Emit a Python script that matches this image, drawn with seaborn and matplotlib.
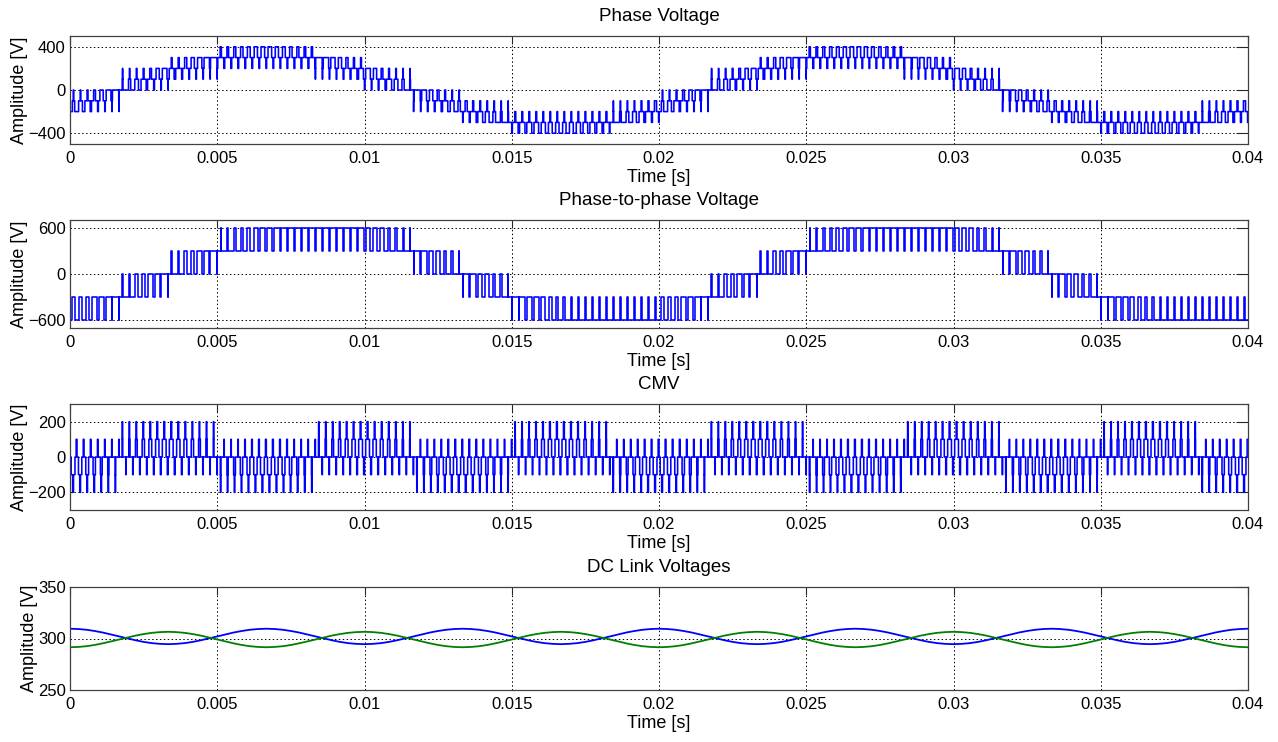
"""
Inverter waveforms: phase, phase-to-phase, common-mode and DC link voltages
"""

import numpy as np
import pandas as pd
import matplotlib
matplotlib.use("Agg")
import matplotlib.pyplot as plt
import seaborn as sns
from matplotlib.ticker import FuncFormatter

# ---- data ------------------------------------------------------------------
# one fundamental period (20 ms) is split into 12 sectors of 1.667 ms,
# each sector holds 7 switching periods
PERIOD = 0.02
SECTOR = PERIOD / 12
SLOTS = 7
N_PERIODS = 2

# phase voltage: centre level of each sector and the mean offset from it
phase_base = [-100, 100, 200, 300, 300, 200, 100, -100, -200, -300, -300, -200]
phase_off_start = [-73, -100, -27, 0, 46, 100, 73, 100, 27, 0, -46, -100]
phase_off_end = [100, 73, 100, 46, 0, -27, -100, -73, -100, -46, 0, 27]

# phase-to-phase voltage: lower level of the band and share of time on the upper level
line_low = [-600, -300, 0, 300, 300, 300, 300, 0, -300, -600, -600, -600]
line_duty_start = [0.27, 0.0, 0.0, 0.0, 0.73, 1.0, 0.73, 1.0, 1.0, 1.0, 0.27, 0.0]
line_duty_end = [1.0, 1.0, 1.0, 0.73, 1.0, 0.73, 0.0, 0.0, 0.0, 0.27, 0.0, 0.27]

# common-mode voltage: +1 -> plateaus 0/100, spikes 200/-100 ; -1 mirrored
cmv_sign = [-1, 1, 1, -1, -1, 1, 1, -1, -1, 1, 1, -1]
cmv_mid_start = [0.6, 0.0, 0.6, 0.0, 0.6, 0.0, 0.6, 0.0, 0.6, 0.0, 0.6, 0.0]
cmv_mid_end = [0.0, 0.6, 0.0, 0.6, 0.0, 0.6, 0.0, 0.6, 0.0, 0.6, 0.0, 0.6]

# DC link capacitor voltages, one ripple period (6.67 ms) in 24 samples
dc_upper = [309.5, 309.2, 308.5, 307.3, 305.8, 303.9, 302.0, 300.1, 298.3, 296.7,
            295.5, 294.8, 294.5, 294.8, 295.5, 296.7, 298.3, 300.1, 302.0, 303.9,
            305.8, 307.3, 308.5, 309.2]
dc_lower = [291.5, 291.8, 292.5, 293.7, 295.3, 297.1, 299.0, 300.9, 302.8, 304.3,
            305.5, 306.2, 306.5, 306.2, 305.5, 304.3, 302.8, 300.9, 299.0, 297.1,
            295.3, 293.7, 292.5, 291.8]
DC_RIPPLE_PERIOD = PERIOD / 3

x_ticks = [0, 0.005, 0.01, 0.015, 0.02, 0.025, 0.03, 0.035, 0.04]
titles = ["Phase Voltage", "Phase-to-phase Voltage", "CMV", "DC Link Voltages"]
y_ticks = [[-400, 0, 400], [-600, 0, 600], [-200, 0, 200], [250, 300, 350]]
y_lims = [(-500, 500), (-700, 700), (-300, 300), (250, 350)]


def build_steps(slot_fn):
    """Expand per-slot (duration fraction, level) lists into step arrays"""
    tslot = SECTOR / SLOTS
    t, v = [], []
    now = 0.0
    for s in range(12 * N_PERIODS):
        j = s % 12
        for k in range(SLOTS):
            frac = (k + 0.5) / SLOTS
            for share, level in slot_fn(j, frac):
                if share <= 1e-4:
                    continue
                t.append(now)
                v.append(level)
                now += share * tslot
    t.append(now)
    v.append(v[-1])
    return pd.DataFrame({"t": t, "v": v})


def phase_slot(j, frac):
    b = phase_base[j]
    off = phase_off_start[j] + (phase_off_end[j] - phase_off_start[j]) * frac
    up = max(off, 0) / 100
    dn = max(-off, 0) / 100
    mix = 0.15 * (1 - up - dn)
    du, dd = up + mix, dn + mix
    rest = max(1 - du - dd, 0)
    return [(dd / 2, b - 100), (rest / 2, b), (du, b + 100), (rest / 2, b), (dd / 2, b - 100)]


def line_slot(j, frac):
    lo = line_low[j]
    d = line_duty_start[j] + (line_duty_end[j] - line_duty_start[j]) * frac
    d = min(max(d, 0.04), 0.96)
    return [((1 - d) / 2, lo), (d, lo + 300), ((1 - d) / 2, lo)]


def cmv_slot(j, frac):
    s = cmv_sign[j]
    m = cmv_mid_start[j] + (cmv_mid_end[j] - cmv_mid_start[j]) * frac
    sp = 0.04 + 0.15 * m
    b = m * (1 - 2 * sp)
    a = (1 - m) * (1 - 2 * sp)
    return [(a / 2, 0), (b / 2, 100 * s), (sp, 200 * s), (b / 2, 100 * s),
            (a / 2, 0), (sp, -100 * s)]


def style_axis(ax, i):
    ax.set_xlim(0, 0.04)
    ax.set_ylim(*y_lims[i])
    ax.set_xticks(x_ticks)
    ax.set_yticks(y_ticks[i])
    ax.xaxis.set_major_formatter(FuncFormatter(lambda x, p: f"{x:g}"))
    ax.grid(True, linestyle=(0, (1.5, 2.5)), color="black", linewidth=0.7)
    ax.tick_params(axis="y", direction="in", length=8.5, width=0.8,
                   right=True, labelsize=12, pad=3, colors="#262626", labelcolor="black")
    ax.tick_params(axis="x", direction="in", length=6, width=0.8,
                   top=True, labelsize=12, pad=5, colors="#262626", labelcolor="black")
    for sp in ax.spines.values():
        sp.set_color("#404040")
        sp.set_linewidth(0.9)
    ax.set_title(titles[i], fontsize=13.5, pad=11, color="black")
    ax.set_xlabel("Time [s]", fontsize=13, labelpad=2, color="black")
    ax.set_ylabel("Amplitude [V]", fontsize=13, labelpad=0, color="black")


def main():
    sns.set_style("white")
    plt.rcParams["font.family"] = ["Liberation Sans", "DejaVu Sans"]
    plt.rcParams["text.color"] = "black"

    fig = plt.figure(figsize=(12.78, 7.42), dpi=100)
    W, H = 1278, 742
    rects = [(36, 144), (220, 328), (404, 510), (587, 690)]
    axes = [fig.add_axes([70 / W, 1 - b / H, (1248 - 70) / W, (b - t) / H]) for t, b in rects]

    waves = [build_steps(phase_slot), build_steps(line_slot), build_steps(cmv_slot)]
    for ax, df in zip(axes[:3], waves):
        sns.lineplot(data=df, x="t", y="v", ax=ax, drawstyle="steps-post",
                     estimator=None, sort=False, color="#0000ff", linewidth=1.15)

    n = len(dc_upper)
    reps = int(round(0.04 / DC_RIPPLE_PERIOD))
    up = list(np.tile(dc_upper, reps)) + [dc_upper[0]]
    lo = list(np.tile(dc_lower, reps)) + [dc_lower[0]]
    t_dc = np.arange(len(up)) * DC_RIPPLE_PERIOD / n
    dc = pd.DataFrame({"t": np.concatenate([t_dc, t_dc]),
                       "v": up + lo,
                       "cap": ["upper"] * len(up) + ["lower"] * len(lo)})
    sns.lineplot(data=dc, x="t", y="v", hue="cap", ax=axes[3], estimator=None,
                 sort=False, palette={"upper": "#0000ff", "lower": "#008000"},
                 linewidth=1.3, legend=False)

    for i, ax in enumerate(axes):
        style_axis(ax, i)

    fig.savefig("out.png", dpi=100)
    plt.close(fig)


if __name__ == "__main__":
    main()
